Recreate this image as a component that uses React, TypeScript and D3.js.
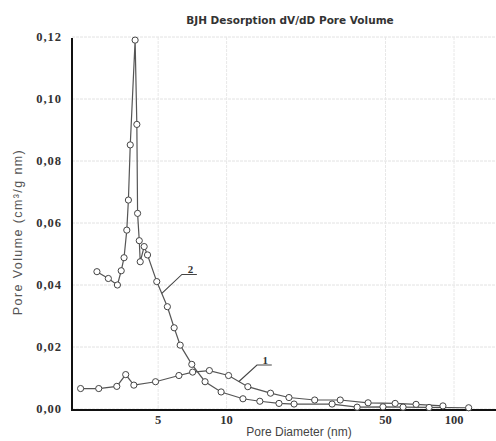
import React from "react";
import * as d3 from "d3";

const title = "BJH Desorption dV/dD Pore Volume";
const xTitle = "Pore Diameter (nm)";
const yTitle = "Pore Volume (cm³/g nm)";
const xTicks = [5, 10, 50, 100];
const yTicks = [0, 0.02, 0.04, 0.06, 0.08, 0.1, 0.12];

// Curve 2
const d2 = [2.69, 3.02, 3.31, 3.44, 3.54, 3.64, 3.70, 3.77, 3.96, 4.03, 4.06, 4.13, 4.17, 4.34, 4.49, 4.93, 5.49, 5.88, 6.25, 7.03, 8.04, 9.46, 11.8, 14.0, 17.0, 19.8, 29.1, 37.5, 48.7, 59.7, 77.7, 116];
const v2 = [0.0443, 0.0421, 0.0400, 0.0446, 0.0488, 0.0577, 0.0674, 0.0852, 0.1190, 0.0918, 0.0631, 0.0543, 0.0475, 0.0524, 0.0497, 0.0411, 0.0330, 0.0262, 0.0206, 0.0144, 0.0088, 0.0055, 0.0033, 0.0025, 0.0018, 0.0016, 0.0016, 0.0006, 0.0007, 0.0006, 0.0005, 0.0004];

// Curve 1
const d1 = [2.28, 2.74, 3.29, 3.60, 3.91, 4.87, 6.17, 7.09, 8.40, 10.2, 12.4, 15.6, 18.8, 24.4, 31.6, 41.9, 55.1, 68.1, 89.4];
const v1 = [0.0066, 0.0066, 0.0073, 0.0111, 0.0077, 0.0088, 0.0108, 0.0119, 0.0124, 0.0108, 0.0072, 0.0051, 0.0037, 0.0029, 0.0029, 0.0020, 0.0018, 0.0015, 0.0010];

// Callout leaders (data space): [diameter, value]
const callout2 = [[5.19, 0.0373], [6.36, 0.0434], [7.40, 0.0434]];
const callout1 = [[11.3, 0.0088], [13.6, 0.0142], [15.8, 0.0142]];
const calloutLabels = ["2", "1"];

const W = 496;
const H = 441;

export default function App() {
  const x = d3.scaleLog().domain([2.09, 153]).range([72, 496]);
  const y = d3.scaleLinear().domain([0, 0.12]).range([409, 37]);
  const line = d3
    .line<[number, number]>()
    .x((p) => x(p[0]))
    .y((p) => y(p[1]));

  const s1 = d1.map((d, i) => [d, v1[i]] as [number, number]);
  const s2 = d2.map((d, i) => [d, v2[i]] as [number, number]);
  const callouts = [callout2, callout1] as [number, number][][];

  const tickFont = "'Liberation Serif', serif";
  const sans = "'Liberation Sans', Arial, sans-serif";

  return (
    <svg width={W} height={H} style={{ position: "absolute", left: 0, top: 0, background: "#fff" }}>
      <rect x={0} y={0} width={W} height={H} fill="#fff" />
      {/* gridlines */}
      {yTicks.map((t) => (
        <line key={"gy" + t} x1={72} x2={W} y1={y(t)} y2={y(t)} stroke="#e2e2e2" strokeWidth={1} strokeDasharray="3,1" />
      ))}
      {xTicks.map((t) => (
        <line key={"gx" + t} x1={x(t)} x2={x(t)} y1={37} y2={409} stroke="#e8e8e8" strokeWidth={1} strokeDasharray="3,1" />
      ))}
      {/* axes */}
      <line x1={72} x2={72} y1={38} y2={410} stroke="#111" strokeWidth={2} />
      <line x1={71} x2={W} y1={410} y2={410} stroke="#111" strokeWidth={2} />
      {/* y tick labels */}
      {yTicks.map((t) => (
        <text
          key={"ty" + t}
          x={62}
          y={y(t) + 4}
          textAnchor="end"
          fontFamily={tickFont}
          fontWeight="bold"
          fontSize={12.5}
          letterSpacing={1}
          fill="#333"
        >
          {t.toFixed(2).replace(".", ",")}
        </text>
      ))}
      {/* x tick labels */}
      {xTicks.map((t) => (
        <text
          key={"tx" + t}
          x={x(t)}
          y={424}
          textAnchor="middle"
          fontFamily={tickFont}
          fontWeight="bold"
          fontSize={12.5}
          fill="#333"
        >
          {t}
        </text>
      ))}
      {/* titles */}
      <text x={290} y={24} textAnchor="middle" fontFamily="'DejaVu Sans', sans-serif" fontWeight="bold" fontSize={10.5} fill="#333">
        {title}
      </text>
      <text x={299} y={436} textAnchor="middle" fontFamily={sans} fontSize={12} fill="#444">
        {xTitle}
      </text>
      <text
        transform={`translate(22,232) rotate(-90)`}
        textAnchor="middle"
        fontFamily={sans}
        fontSize={12.5}
        letterSpacing={1.4}
        fill="#555"
      >
        {yTitle}
      </text>
      {/* series lines */}
      <path d={line(s2) || ""} fill="none" stroke="#555" strokeWidth={1.2} />
      <path d={line(s1) || ""} fill="none" stroke="#555" strokeWidth={1.2} />
      {/* markers */}
      {s2.map((p, i) => (
        <circle key={"m2" + i} cx={x(p[0])} cy={y(p[1])} r={3.1} fill="#fff" stroke="#444" strokeWidth={1} />
      ))}
      {s1.map((p, i) => (
        <circle key={"m1" + i} cx={x(p[0])} cy={y(p[1])} r={3.1} fill="#fff" stroke="#444" strokeWidth={1} />
      ))}
      {/* callouts */}
      {callouts.map((c, i) => (
        <g key={"c" + i}>
          <path d={line(c) || ""} fill="none" stroke="#444" strokeWidth={1.1} />
          <text
            x={(x(c[1][0]) + x(c[2][0])) / 2 + 1}
            y={y(c[1][1]) - 1}
            textAnchor="middle"
            fontFamily={tickFont}
            fontWeight="bold"
            fontSize={11}
            fill="#333"
          >
            {calloutLabels[i]}
          </text>
        </g>
      ))}
    </svg>
  );
}
